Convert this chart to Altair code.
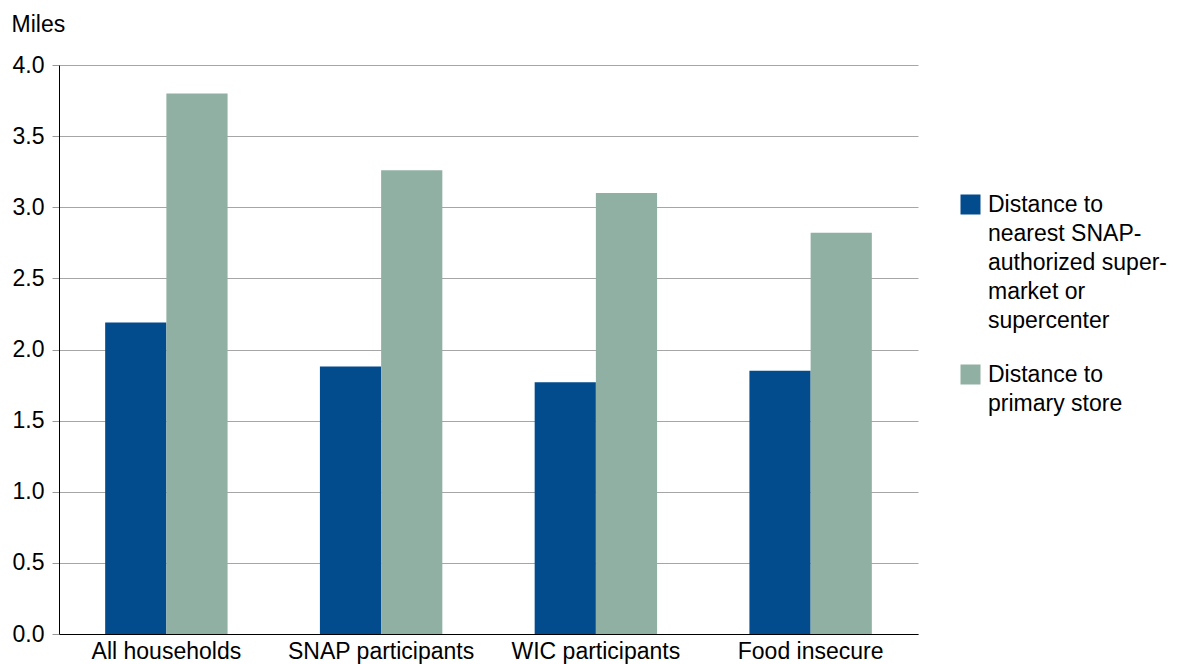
import altair as alt
import pandas as pd

categories = ["All households", "SNAP participants", "WIC participants", "Food insecure"]
series = ["Distance to nearest SNAP-authorized supermarket or supercenter", "Distance to primary store"]
nearest_snap = [2.19, 1.88, 1.77, 1.85]
primary_store = [3.80, 3.26, 3.10, 2.82]
legend_lines = [
    ["Distance to", "nearest SNAP-", "authorized super-", "market or", "supercenter"],
    ["Distance to", "primary store"],
]
colors = ["#024b8c", "#90b0a3"]

rows = []
for i, c in enumerate(categories):
    rows.append({"category": c, "series": series[0], "value": nearest_snap[i]})
    rows.append({"category": c, "series": series[1], "value": primary_store[i]})
df = pd.DataFrame(rows)

def js_list(lines):
    return "[" + ",".join("'" + l + "'" for l in lines) + "]"

label_expr = f"datum.value == '{series[0]}' ? {js_list(legend_lines[0])} : {js_list(legend_lines[1])}"

FONT = "Liberation Sans"
FS = 23

chart = alt.Chart(df).mark_bar().encode(
    x=alt.X("category:N", sort=categories, title=None,
            scale=alt.Scale(paddingInner=0.43, paddingOuter=0.215),
            axis=alt.Axis(labelAngle=0, ticks=False, labelPadding=6, domainColor="#000000",
                          labelFontSize=FS, labelColor="#000000", labelFont=FONT, grid=False,
                          labelLimit=400)),
    xOffset=alt.XOffset("series:N", sort=series),
    y=alt.Y("value:Q", title="Miles",
            scale=alt.Scale(domain=[0, 4]),
            axis=alt.Axis(values=[0, 0.5, 1, 1.5, 2, 2.5, 3, 3.5, 4], format=".1f",
                          labelFontSize=FS, labelColor="#000000", labelFont=FONT,
                          tickSize=7, tickColor="#999999", labelPadding=8,
                          domainColor="#000000", gridColor="#a6a6a6",
                          titleAngle=0, titleFontSize=FS, titleFontWeight="normal",
                          titleFont=FONT, titleColor="#000000",
                          titleX=-48, titleY=-34, titleAlign="left", titleBaseline="alphabetic")),
    color=alt.Color("series:N", sort=series,
                    scale=alt.Scale(domain=series, range=colors),
                    legend=alt.Legend(title=None, orient="none", legendX=900, legendY=128,
                                      symbolType="square", symbolSize=400, symbolStrokeWidth=0,
                                      symbolOpacity=1,
                                      labelExpr=label_expr, labelFontSize=FS, labelFont=FONT,
                                      labelColor="#000000", labelLimit=400, labelOffset=6,
                                      labelBaseline="middle", rowPadding=30)),
).properties(
    width=859, height=569,
    padding={"left": 59, "top": 65, "right": 259, "bottom": 30},
    autosize=alt.AutoSizeParams(type="none"),
).configure(style={"guide-label": {"lineHeight": 29}}).configure_view(strokeWidth=0)

chart.save("out.html", embed_options={"renderer": "svg", "actions": False})
